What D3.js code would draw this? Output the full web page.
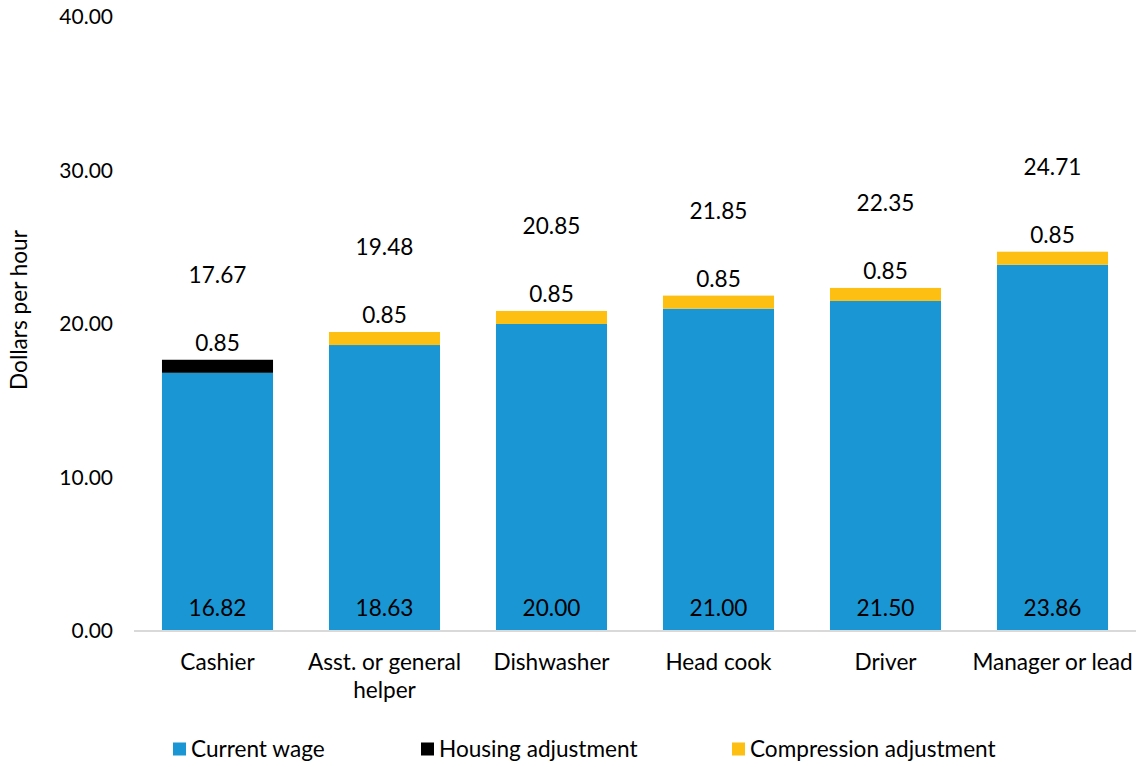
<!DOCTYPE html>
<html>
<head>
<meta charset="utf-8">
<script src="https://cdn.jsdelivr.net/npm/d3@7"></script>
<style>
  html, body { margin: 0; padding: 0; background: #fff; }
  svg { display: block; font-family: Lato, "Noto Sans", sans-serif; }
</style>
</head>
<body>
<svg id="chart" width="1141" height="767"></svg>
<script>
// Hourly wage build-up by role
const categories = ["Cashier", "Asst. or general helper", "Dishwasher", "Head cook", "Driver", "Manager or lead"];
const currentWage = [16.82, 18.63, 20.00, 21.00, 21.50, 23.86];
const housingAdj = [0.85, 0, 0, 0, 0, 0];
const compressionAdj = [0, 0.85, 0.85, 0.85, 0.85, 0.85];
const totals = [17.67, 19.48, 20.85, 21.85, 22.35, 24.71];
const yTicks = [0, 10, 20, 30, 40];
const seriesNames = ["Current wage", "Housing adjustment", "Compression adjustment"];

const colors = { "Current wage": "#1996D3", "Housing adjustment": "#000000", "Compression adjustment": "#FDBF12" };

const svg = d3.select("#chart");
const plotLeft = 134, plotRight = 1136, plotTop = 17, plotBottom = 631;
const fontSize = 22.6;

const x = d3.scaleBand().domain(categories).range([plotLeft, plotRight]).paddingInner(0.335).paddingOuter(0.1675);
const y = d3.scaleLinear().domain([0, 40]).range([plotBottom, plotTop]);

const rows = categories.map((c, i) => ({
  cat: c,
  "Current wage": currentWage[i],
  "Housing adjustment": housingAdj[i],
  "Compression adjustment": compressionAdj[i],
  total: totals[i]
}));
const stacked = d3.stack().keys(seriesNames)(rows);

// y axis labels (no line, no ticks)
const yAxis = d3.axisLeft(y).tickValues(yTicks).tickFormat(d3.format(".2f")).tickSize(0).tickPadding(0);
const gy = svg.append("g").attr("transform", "translate(113,0)").call(yAxis);
gy.select(".domain").remove();
gy.selectAll("text").attr("font-size", 21).attr("fill", "#000").attr("font-family", "Lato, sans-serif");

// y axis title
svg.append("text")
  .attr("transform", `translate(27,${310}) rotate(-90)`)
  .attr("text-anchor", "middle")
  .attr("font-size", fontSize)
  .attr("fill", "#000")
  .text("Dollars per hour");

// stacked bars
svg.append("g").selectAll("g").data(stacked).join("g")
  .attr("fill", d => colors[d.key])
  .selectAll("rect").data(d => d.filter(s => s[1] - s[0] > 0)).join("rect")
  .attr("x", d => x(d.data.cat))
  .attr("width", x.bandwidth())
  .attr("y", d => y(d[1]))
  .attr("height", d => y(d[0]) - y(d[1]));

// baseline
svg.append("line")
  .attr("x1", plotLeft).attr("x2", plotRight)
  .attr("y1", y(0)).attr("y2", y(0))
  .attr("stroke", "#D9D9D9").attr("stroke-width", 2);

const labels = svg.append("g").attr("font-size", fontSize).attr("fill", "#000").attr("text-anchor", "middle");

// current wage labels at the inside base
labels.selectAll("text.base").data(rows).join("text").attr("class", "base")
  .attr("x", d => x(d.cat) + x.bandwidth() / 2)
  .attr("y", y(0) - 23)
  .attr("dy", "0.35em")
  .text(d => d3.format(".2f")(d["Current wage"]));

// adjustment labels just above each top segment
const adjRows = rows.map((d, i) => ({ cat: d.cat, v: housingAdj[i] + compressionAdj[i], stackTop: currentWage[i] + housingAdj[i] + compressionAdj[i] }));
labels.selectAll("text.adj").data(adjRows).join("text").attr("class", "adj")
  .attr("x", d => x(d.cat) + x.bandwidth() / 2)
  .attr("y", d => y(d.stackTop) - 17)
  .attr("dy", "0.35em")
  .text(d => d3.format(".2f")(d.v));

// totals, lifted above the stack
labels.selectAll("text.tot").data(rows).join("text").attr("class", "tot")
  .attr("x", d => x(d.cat) + x.bandwidth() / 2)
  .attr("y", d => y(d.total + 5.5))
  .attr("dy", "0.35em")
  .text(d => d3.format(".2f")(d.total));

// category labels, wrapped to the band width
const catG = svg.append("g").attr("font-size", fontSize).attr("fill", "#000").attr("text-anchor", "middle");
catG.selectAll("text").data(categories).join("text")
  .attr("x", d => x(d) + x.bandwidth() / 2)
  .attr("y", 662)
  .each(function (d) {
    const el = d3.select(this);
    const cx = x(d) + x.bandwidth() / 2;
    const maxW = x.step();
    const words = d.split(" ");
    let line = [];
    let tspan = el.append("tspan").attr("x", cx).attr("dy", "0.35em");
    for (const w of words) {
      line.push(w);
      tspan.text(line.join(" "));
      if (tspan.node().getComputedTextLength() > maxW && line.length > 1) {
        line.pop();
        tspan.text(line.join(" "));
        line = [w];
        tspan = el.append("tspan").attr("x", cx).attr("dy", "28px").text(w);
      }
    }
  });

// legend
const legendPos = [173, 421, 732];
const lg = svg.append("g").attr("font-size", fontSize).attr("fill", "#000");
seriesNames.forEach((name, i) => {
  const g = lg.append("g").attr("transform", `translate(${legendPos[i]},749)`);
  g.append("rect").attr("x", 0).attr("y", -6.5).attr("width", 13).attr("height", 13).attr("fill", colors[name]);
  g.append("text").attr("x", 18).attr("y", 0).attr("dy", "0.35em").text(name);
});
</script>
</body>
</html>
